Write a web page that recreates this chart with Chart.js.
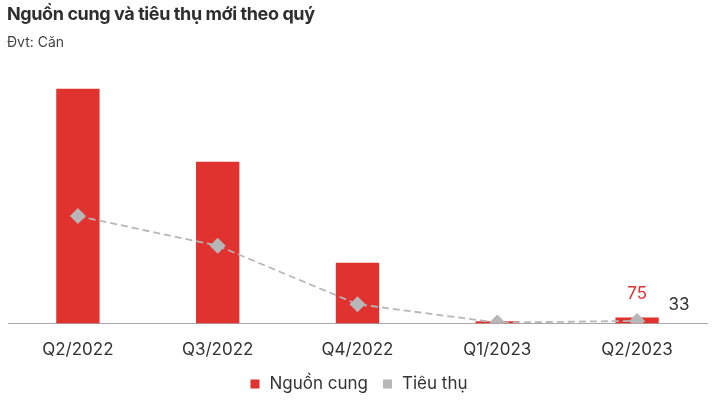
<!DOCTYPE html>
<html>
<head>
<meta charset="utf-8">
<script src="https://cdn.jsdelivr.net/npm/chart.js@4.4.1/dist/chart.umd.min.js"></script>
<style>
  html, body { margin: 0; padding: 0; background: #fff; }
  body { width: 726px; height: 408px; position: relative; overflow: hidden; font-family: Inter, "Noto Sans", sans-serif; }
  #title { position: absolute; left: 7px; top: 3px; font-size: 18px; font-weight: 700; color: #2e2e2e; letter-spacing: -0.4px; }
  #unit { position: absolute; left: 7px; top: 33px; font-size: 14px; color: #444; }
  #wrap { position: absolute; left: 0; top: 0; width: 726px; height: 408px; }
</style>
</head>
<body>
<div id="wrap"><canvas id="chart"></canvas></div>
<div id="title">Nguồn cung và tiêu thụ mới theo quý</div>
<div id="unit">Đvt: Căn</div>
<script>
const quarters = ["Q2/2022", "Q3/2022", "Q4/2022", "Q1/2023", "Q2/2023"];
const supply = [2850, 1965, 740, 30, 75];
const sales = [1305, 945, 235, 12, 33];
const shownLabels = { supply: 4, sales: 4 };

const red = "#e0322e";
const grey = "#b7b7b7";

// last-quarter value labels
const valueLabels = {
    id: "valueLabels",
    afterDatasetsDraw(chart) {
        const ctx = chart.ctx;
        ctx.save();
        ctx.font = "17px Inter";
        ctx.textAlign = "center";
        ctx.textBaseline = "middle";

        const bar = chart.getDatasetMeta(0).data[shownLabels.supply];
        ctx.fillStyle = red;
        ctx.fillText(String(supply[shownLabels.supply]), bar.x, bar.y - 24);

        const pt = chart.getDatasetMeta(1).data[shownLabels.sales];
        ctx.fillStyle = "#333";
        ctx.fillText(String(sales[shownLabels.sales]), pt.x + 42, pt.y - 16);
        ctx.restore();
    }
};

// bottom legend with plain square swatches
const squareLegend = {
    id: "squareLegend",
    afterDraw(chart) {
        const ctx = chart.ctx;
        const box = 9, gapText = 10, gapItem = 15, y = 384;
        ctx.save();
        ctx.font = "17px Inter";
        ctx.textBaseline = "middle";
        const items = chart.data.datasets.map(ds => ({ text: ds.label, color: ds.backgroundColor }));
        let total = 0;
        items.forEach((it, i) => {
            it.w = ctx.measureText(it.text).width;
            total += box + gapText + it.w + (i ? gapItem : 0);
        });
        let x = 359 - total / 2;
        items.forEach(it => {
            ctx.fillStyle = it.color;
            ctx.fillRect(x, y - box / 2, box, box);
            x += box + gapText;
            ctx.fillStyle = "#333";
            ctx.fillText(it.text, x, y);
            x += it.w + gapItem;
        });
        ctx.restore();
    }
};

new Chart(document.getElementById("chart"), {
    type: "bar",
    data: {
        labels: quarters,
        datasets: [
            {
                label: "Nguồn cung",
                data: supply,
                backgroundColor: red,
                barPercentage: 0.31,
                categoryPercentage: 1,
                order: 2
            },
            {
                type: "line",
                label: "Tiêu thụ",
                data: sales,
                borderColor: grey,
                backgroundColor: grey,
                borderWidth: 1.8,
                borderDash: [7, 4],
                tension: 0,
                pointStyle: "rectRot",
                pointRadius: 8,
                pointBackgroundColor: grey,
                pointBorderWidth: 0,
                order: 1
            }
        ]
    },
    options: {
        responsive: true,
        maintainAspectRatio: false,
        animation: false,
        layout: { padding: { left: 7, right: 19, top: 60, bottom: 32 } },
        scales: {
            x: {
                grid: { display: false, drawTicks: false },
                border: { display: true, color: "#a8a8a8", width: 1 },
                ticks: { color: "#333", font: { family: "Inter", size: 17 }, padding: 16 }
            },
            y: {
                display: false,
                min: 0,
                max: 3200
            }
        },
        plugins: {
            tooltip: { enabled: false },
            legend: { display: false }
        }
    },
    plugins: [valueLabels, squareLegend]
});
</script>
</body>
</html>
